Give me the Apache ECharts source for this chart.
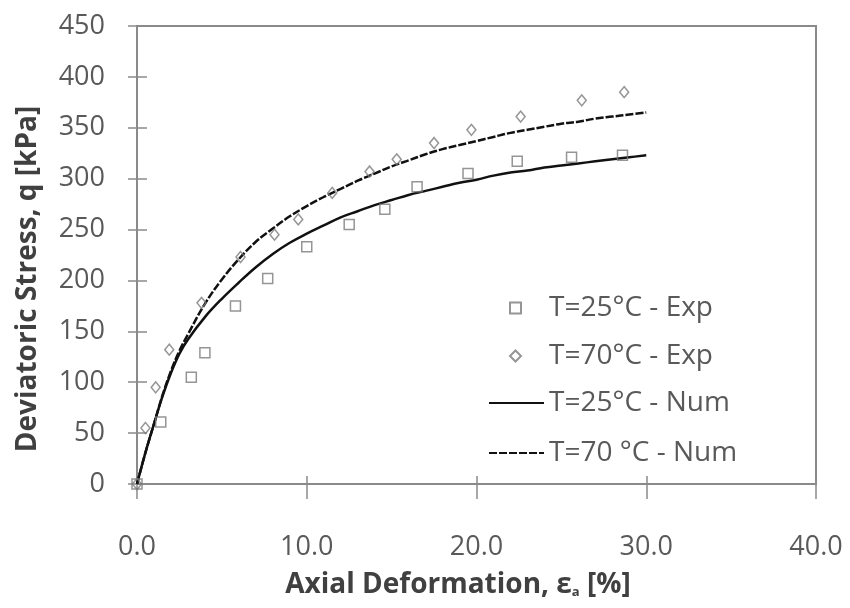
<!DOCTYPE html>
<html>
<head>
<meta charset="utf-8">
<script src="https://cdn.jsdelivr.net/npm/echarts@6/dist/echarts.min.js"></script>
<style>html,body{margin:0;padding:0;background:#fff;}#c{width:850px;height:608px;}</style>
</head>
<body>
<div id="c"></div>
<script>
// Experimental points
const xExp25 = [0, 1.4, 3.2, 4.0, 5.8, 7.7, 10.0, 12.5, 14.6, 16.5, 19.5, 22.4, 25.6, 28.6];
const qExp25 = [0, 61, 105, 129, 175, 202, 233, 255, 270, 292, 305, 317, 321, 323];
const xExp70 = [0, 0.5, 1.1, 1.9, 3.8, 6.1, 8.1, 9.5, 11.5, 13.7, 15.3, 17.5, 19.7, 22.6, 26.2, 28.7];
const qExp70 = [0, 55, 95, 132, 178, 223, 245, 260, 286, 307, 319, 335, 348, 361, 377, 385];
// Numerical curves
const xNum = [0, 0.5, 1, 1.5, 2, 2.5, 3, 4, 5, 6, 7, 8, 9, 10, 11, 12, 13, 14, 15, 16, 17, 18, 19, 20, 21, 22, 23, 24, 25, 26, 27, 28, 29, 30];
const qNum25 = [0, 31, 59, 86, 109, 128, 142, 164, 182, 198, 213, 226, 237, 246, 254, 262, 268, 274, 279, 284, 288, 292, 296, 299, 303, 306, 308, 311, 313, 315, 317, 319, 321, 323];
const qNum70 = [0, 31, 59, 87, 111, 131, 147, 177, 201, 221, 238, 251, 263, 273, 282, 290, 298, 305, 312, 318, 324, 329, 333, 337, 341, 345, 348, 351, 354, 356, 359, 361, 363, 365];
const seriesNames = ['T=25°C - Exp', 'T=70°C - Exp', 'T=25°C - Num', 'T=70 °C - Num'];
const xTitle = 'Axial Deformation, ε';
const xTitleSub = 'a';
const xTitleEnd = ' [%]';
const yTitle = 'Deviatoric Stress, q [kPa]';

const pair = (xs, ys) => xs.map((x, i) => [x, ys[i]]);
const FONT = '"Open Sans", "Noto Sans", sans-serif';
const axisCol = '#8a8a8a';
const labelCol = '#595959';
const markCol = '#7a7a7a';

const chart = echarts.init(document.getElementById('c'), null, {renderer: 'canvas'});
chart.setOption({
  animation: false,
  backgroundColor: '#fff',
  grid: {left: 137, right: 34, top: 26, bottom: 124, show: true, borderColor: axisCol, borderWidth: 2, backgroundColor: 'transparent'},
  xAxis: [
    {type: 'value', min: 0, max: 40, interval: 10, position: 'bottom',
     axisLine: {show: true, onZero: false, lineStyle: {color: axisCol, width: 2}},
     axisTick: {show: true, inside: false, length: 15, lineStyle: {color: axisCol, width: 1.5}},
     axisLabel: {margin: 50, fontSize: 27, color: labelCol, fontFamily: FONT, formatter: v => v.toFixed(1)},
     splitLine: {show: false}},
    {type: 'value', min: 0, max: 40, interval: 10, position: 'bottom',
     axisLine: {show: false, onZero: false},
     axisTick: {show: true, inside: true, length: 8, lineStyle: {color: axisCol, width: 1.5}},
     axisLabel: {show: false}, splitLine: {show: false}}
  ],
  yAxis: [
    {type: 'value', min: 0, max: 450, interval: 50, position: 'left',
     axisLine: {show: true, onZero: false, lineStyle: {color: axisCol, width: 2}},
     axisTick: {show: true, inside: false, length: 9, lineStyle: {color: axisCol, width: 1.5}},
     axisLabel: {margin: 32, fontSize: 27, color: labelCol, fontFamily: FONT},
     splitLine: {show: false}},
    {type: 'value', min: 0, max: 450, interval: 50, position: 'left',
     axisLine: {show: false, onZero: false},
     axisTick: {show: true, inside: true, length: 10, lineStyle: {color: axisCol, width: 1.5}},
     axisLabel: {show: false}, splitLine: {show: false}}
  ],
  legend: [
    {orient: 'vertical', left: 504, top: 289,
     itemWidth: 11, itemHeight: 11, itemGap: 20,
     textStyle: {fontSize: 28, color: labelCol, fontFamily: FONT, lineHeight: 28, padding: [0, 0, 0, 23]},
     data: [seriesNames[0], seriesNames[1]]},
    {orient: 'vertical', left: 483, top: 384,
     itemWidth: 55, itemHeight: 14, itemGap: 22,
     itemStyle: {opacity: 0, borderWidth: 0},
     textStyle: {fontSize: 28, color: labelCol, fontFamily: FONT, lineHeight: 28},
     data: [seriesNames[2], seriesNames[3]]}
  ],
  series: [
    {name: seriesNames[2], type: 'line', data: pair(xNum, qNum25), symbol: 'none', showSymbol: false,
     smooth: 0.4, lineStyle: {color: '#111', width: 2.5, type: 'solid'}, itemStyle: {color: '#111'}, z: 3},
    {name: seriesNames[3], type: 'line', data: pair(xNum, qNum70), symbol: 'none', showSymbol: false,
     smooth: 0.4, lineStyle: {color: '#111', width: 2.5, type: [8, 2]}, itemStyle: {color: '#111'}, z: 3},
    {name: seriesNames[0], type: 'scatter', data: pair(xExp25, qExp25), symbol: 'rect', symbolSize: 10,
     itemStyle: {color: 'rgba(255,255,255,0)', borderColor: markCol, borderWidth: 1.5}, z: 4},
    {name: seriesNames[1], type: 'scatter', data: pair(xExp70, qExp70), symbol: 'diamond', symbolSize: [9, 11],
     itemStyle: {color: 'rgba(255,255,255,0)', borderColor: markCol, borderWidth: 1.5}, z: 4}
  ],
  graphic: [
    {type: 'text', x: 28, y: 279, rotation: Math.PI / 2,
     style: {text: yTitle, fontSize: 28, fontWeight: 'bold', fill: '#404040', fontFamily: FONT, align: 'center', verticalAlign: 'middle'}},
    {type: 'text', x: 458, y: 585,
     style: {text: xTitle + '{s|' + xTitleSub + '}' + xTitleEnd, fontSize: 28, fontWeight: 'bold', fill: '#404040', fontFamily: FONT,
       align: 'center', verticalAlign: 'middle',
       rich: {s: {fontSize: 13, fontWeight: 'bold', fill: '#404040', fontFamily: FONT, verticalAlign: 'bottom', padding: [15, 0, 0, 0]}}}}
  ]
});
</script>
</body>
</html>
